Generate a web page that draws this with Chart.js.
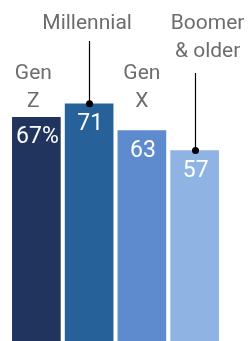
<!DOCTYPE html>
<html>
<head>
<meta charset="utf-8">
<script src="https://cdn.jsdelivr.net/npm/chart.js@4"></script>
<style>
  html, body { margin: 0; padding: 0; background: #fff; }
  #wrap { width: 248px; height: 341px; position: relative; }
</style>
</head>
<body>
<div id="wrap"><canvas id="chart"></canvas></div>
<script>
// generations and share (%)
var generations = [['Gen', 'Z'], ['Millennial'], ['Gen', 'X'], ['Boomer', '& older']];
var shares = [67, 71, 63, 57];
var valueLabels = ['67%', '71', '63', '57'];
var barColors = ['#21345e', '#26619a', '#5d8bce', '#8fb3e3'];
// which labels sit at the top with a pointer line
var hasPointer = [false, true, false, true];

// label placement tweaks (px)
var labelShiftX = [-3, -2, 0, 13];
var pointerGap = [0, 12, 0, 16];

var labelFont = '21px Roboto, "Liberation Sans", sans-serif';
var valueFont = '23px Roboto, "Liberation Sans", sans-serif';

var labelPlugin = {
    id: 'labelPlugin',
    afterDatasetsDraw: function (chart) {
        var ctx = chart.ctx;
        var meta = chart.getDatasetMeta(0);
        ctx.save();

        // values inside the bars
        ctx.font = valueFont;
        ctx.fillStyle = '#ffffff';
        ctx.textAlign = 'center';
        ctx.textBaseline = 'alphabetic';
        meta.data.forEach(function (bar, i) {
            ctx.fillText(valueLabels[i], bar.x + 1, bar.y + 26);
        });

        // generation names
        ctx.font = labelFont;
        meta.data.forEach(function (bar, i) {
            var lines = generations[i];
            var start = hasPointer[i] ? 29 : 79;
            ctx.fillStyle = '#6d6d6d';
            lines.forEach(function (line, j) {
                ctx.fillText(line, bar.x + labelShiftX[i], start + j * 28);
            });

            if (hasPointer[i]) {
                var lineTop = start + (lines.length - 1) * 28 + pointerGap[i];
                var x = Math.round(bar.x) + 0.5;
                ctx.strokeStyle = '#000';
                ctx.lineWidth = 1.2;
                ctx.beginPath();
                ctx.moveTo(x, lineTop);
                ctx.lineTo(x, bar.y);
                ctx.stroke();
                ctx.fillStyle = '#000';
                ctx.beginPath();
                ctx.arc(x, bar.y, 3.5, 0, Math.PI * 2);
                ctx.fill();
            }
        });
        ctx.restore();
    }
};

new Chart(document.getElementById('chart'), {
    type: 'bar',
    data: {
        labels: generations.map(function (g) { return g.join(' '); }),
        datasets: [{
            data: shares,
            backgroundColor: barColors,
            borderWidth: 0,
            barThickness: 48
        }]
    },
    options: {
        responsive: true,
        maintainAspectRatio: false,
        animation: false,
        layout: { padding: { left: 10, right: 27, top: 7, bottom: 0 } },
        plugins: {
            legend: { display: false },
            tooltip: { enabled: false }
        },
        scales: {
            x: { display: false },
            y: { display: false, min: 0, max: 100 }
        }
    },
    plugins: [labelPlugin]
});
</script>
</body>
</html>
